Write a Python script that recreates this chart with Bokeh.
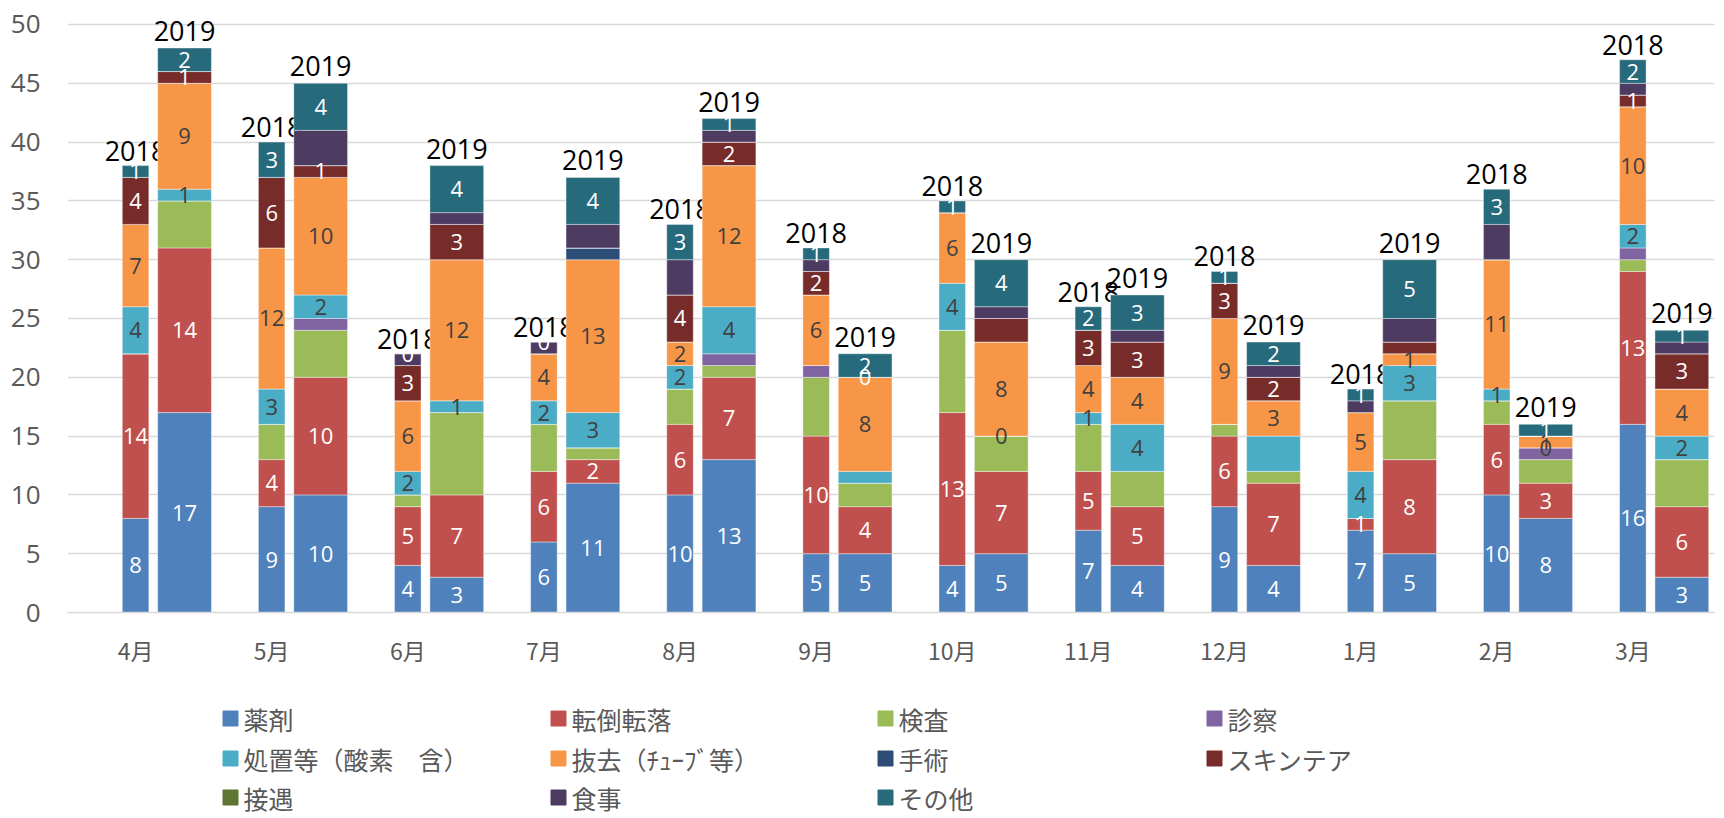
from bokeh.plotting import figure
from bokeh.models import ColumnDataSource, FixedTicker, Range1d
from bokeh.layouts import column
from bokeh.core.properties import value
from bokeh.embed import file_html
from bokeh.resources import INLINE

months = ["4月", "5月", "6月", "7月", "8月", "9月", "10月", "11月", "12月", "1月", "2月", "3月"]
years = ["2018", "2019"]

series = ["薬剤", "転倒転落", "検査", "診察", "処置等（酸素　含）", "抜去（ﾁｭｰﾌﾞ等）",
          "手術", "スキンテア", "接遇", "食事", "その他"]
colors = ["#4F81BD", "#C0504D", "#9BBB59", "#8064A2", "#4BACC6", "#F79646",
          "#2C4D75", "#772C2A", "#5F7530", "#4D3B62", "#276A7C"]
label_colors = ["white", "white", None, None, "#404040", "#404040",
                None, "white", None, None, "white"]

N = None
# 2018 (None = blank cell, no label)
yakuzai_2018 = [8, 9, 4, 6, 10, 5, 4, 7, 9, 7, 10, 16]
tentou_2018 = [14, 4, 5, 6, 6, 10, 13, 5, 6, 1, 6, 13]
kensa_2018 = [N, 3, 1, 4, 3, 5, 7, 4, 1, N, 2, 1]
shinsatsu_2018 = [N, N, N, N, N, 1, N, N, N, N, N, 1]
shochi_2018 = [4, 3, 2, 2, 2, N, 4, 1, N, 4, 1, 2]
bakkyo_2018 = [7, 12, 6, 4, 2, 6, 6, 4, 9, 5, 11, 10]
shujutsu_2018 = [N, N, N, N, N, N, N, N, N, N, N, N]
skintear_2018 = [4, 6, 3, N, 4, 2, N, 3, 3, N, N, 1]
setsugu_2018 = [N, N, N, N, N, N, N, N, N, N, N, N]
shokuji_2018 = [N, N, 1, 1, 3, 1, N, N, N, 1, 3, 1]
sonota_2018 = [1, 3, 0, 0, 3, 1, 1, 2, 1, 1, 3, 2]
# 2019
yakuzai_2019 = [17, 10, 3, 11, 13, 5, 5, 4, 4, 5, 8, 3]
tentou_2019 = [14, 10, 7, 2, 7, 4, 7, 5, 7, 8, 3, 6]
kensa_2019 = [4, 4, 7, 1, 1, 2, 3, 3, 1, 5, 2, 4]
shinsatsu_2019 = [N, 1, N, N, 1, N, N, N, N, N, 1, N]
shochi_2019 = [1, 2, 1, 3, 4, 1, 0, 4, 3, 3, 0, 2]
bakkyo_2019 = [9, 10, 12, 13, 12, 8, 8, 4, 3, 1, 1, 4]
shujutsu_2019 = [N, N, N, 1, N, N, N, N, N, N, N, N]
skintear_2019 = [1, 1, 3, N, 2, 0, 2, 3, 2, 1, N, 3]
setsugu_2019 = [N, N, N, N, N, N, N, N, N, N, N, N]
shokuji_2019 = [N, 3, 1, 2, 1, N, 1, 1, 1, 2, N, 1]
sonota_2019 = [2, 4, 4, 4, 1, 2, 4, 3, 2, 5, 1, 1]

data_2018 = [yakuzai_2018, tentou_2018, kensa_2018, shinsatsu_2018, shochi_2018, bakkyo_2018,
             shujutsu_2018, skintear_2018, setsugu_2018, shokuji_2018, sonota_2018]
data_2019 = [yakuzai_2019, tentou_2019, kensa_2019, shinsatsu_2019, shochi_2019, bakkyo_2019,
             shujutsu_2019, skintear_2019, setsugu_2019, shokuji_2019, sonota_2019]
# labels deleted in the original chart: (year, series index, month index)
hidden_labels = {("2019", 4, 5), ("2019", 7, 6), ("2019", 4, 8), ("2019", 7, 9)}

bar_offset = {"2018": 0.0, "2019": 0.36}
bar_width = {"2018": 0.195, "2019": 0.395}
year_offset = {"2018": -15, "2019": -17}

BL, BR = 67, 10
W = 1724

p = figure(width=W, height=688, x_range=Range1d(-0.5, 11.60), y_range=Range1d(0, 51.36),
           output_backend="svg", toolbar_location=None,
           min_border_left=BL, min_border_right=BR, min_border_top=8, min_border_bottom=76)
p.outline_line_color = None
p.xgrid.grid_line_color = None
p.ygrid.grid_line_color = "#D9D9D9"
p.ygrid.grid_line_width = 1.5

p.yaxis.ticker = FixedTicker(ticks=list(range(0, 51, 5)))
p.yaxis.axis_line_color = None
p.yaxis.major_tick_line_color = None
p.yaxis.minor_tick_line_color = None
p.yaxis.major_label_standoff = 21
p.yaxis.major_label_text_font = "Open Sans"
p.yaxis.major_label_text_font_size = "26px"
p.yaxis.major_label_text_color = "#595959"

p.xaxis.ticker = FixedTicker(ticks=list(range(12)))
p.xaxis.major_label_overrides = {i: m for i, m in enumerate(months)}
p.xaxis.axis_line_color = "#D9D9D9"
p.xaxis.axis_line_width = 1.5
p.xaxis.major_tick_line_color = None
p.xaxis.minor_tick_line_color = None
p.xaxis.major_label_standoff = 14
p.xaxis.major_label_text_font = "Noto Sans CJK JP"
p.xaxis.major_label_text_font_size = "23px"
p.xaxis.major_label_text_color = "#595959"

for yr, data in (("2018", data_2018), ("2019", data_2019)):
    xs = [i + bar_offset[yr] for i in range(12)]
    cols = {"x": xs}
    keys = []
    for k, vals in enumerate(data):
        key = f"s{k}"
        cols[key] = [v if v is not None else 0 for v in vals]
        keys.append(key)
    src = ColumnDataSource(cols)
    p.vbar_stack(keys, x="x", width=bar_width[yr], color=colors, source=src,
                 line_color="white", line_width=0.8, line_alpha=0.5)

    lx, ly, lt, lc = [], [], [], []
    totals = [0.0] * 12
    for k, vals in enumerate(data):
        for i, v in enumerate(vals):
            vv = v if v is not None else 0
            if v is not None and label_colors[k] is not None and (yr, k, i) not in hidden_labels:
                lx.append(xs[i])
                ly.append(totals[i] + vv / 2)
                lt.append(str(v))
                lc.append(label_colors[k])
            totals[i] += vv
    lsrc = ColumnDataSource(dict(x=lx, y=ly, text=lt, color=lc))
    p.text(x="x", y="y", text="text", text_color="color", source=lsrc,
           text_align="center", text_baseline="middle",
           text_font=value("Open Sans"), text_font_size="22px")

    ysrc = ColumnDataSource(dict(x=xs, y=totals, text=[yr] * 12))
    p.text(x="x", y="y", text="text", source=ysrc, text_color="black",
           text_align="center", text_baseline="alphabetic", y_offset=year_offset[yr],
           text_font=value("Open Sans"), text_font_size="27px")

# legend panel (coordinates in page pixels)
LH = 130
lg = figure(width=W, height=LH, x_range=Range1d(BL, W - BR), y_range=Range1d(0, LH),
            output_backend="svg", toolbar_location=None,
            min_border_left=BL, min_border_right=BR, min_border_top=0, min_border_bottom=0)
lg.axis.visible = False
lg.grid.visible = False
lg.outline_line_color = None
top = 688
col_x = [230, 558, 885, 1214]
row_y = [718, 758, 797]
sx, sy, tc = [], [], []
for k, name in enumerate(series):
    r, c = divmod(k, 4)
    sx.append(col_x[c])
    sy.append(LH - (row_y[r] - top))
    tc.append(colors[k])
lsrc2 = ColumnDataSource(dict(x=sx, y=sy, color=tc, text=series,
                              tx=[v + 13 for v in sx]))
lg.rect(x="x", y="y", width=15, height=15, color="color", source=lsrc2)
lg.text(x="tx", y="y", text="text", source=lsrc2, text_color="#595959",
        text_align="left", text_baseline="middle",
        text_font=value("Noto Sans CJK JP"), text_font_size="25px")

layout = column(p, lg)
open("out.html", "w").write(file_html(layout, INLINE))
